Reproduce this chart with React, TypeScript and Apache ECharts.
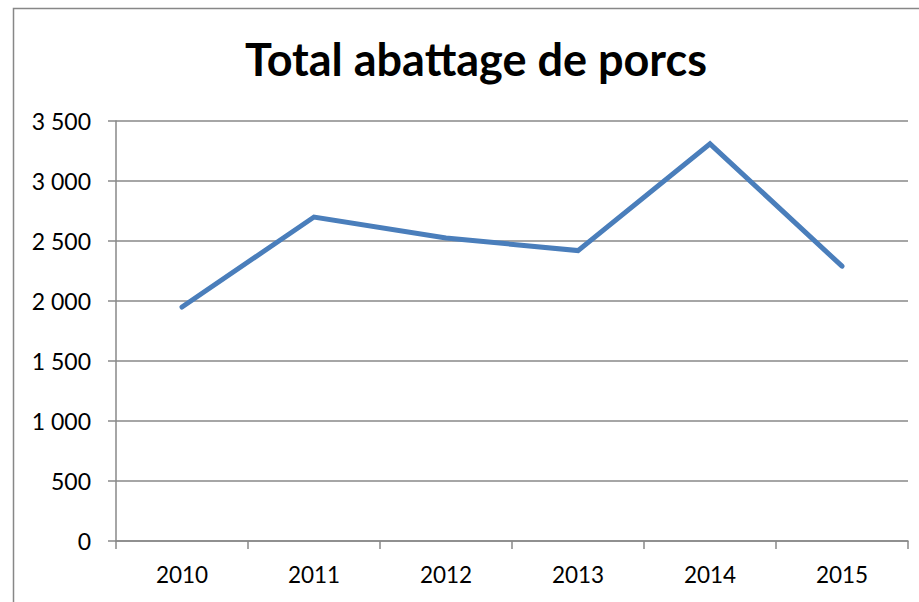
import React, { useEffect, useRef } from "react";
import * as echarts from "echarts";

const titleText = "Total abattage de porcs";
const years = ["2010", "2011", "2012", "2013", "2014", "2015"];
const slaughterValues = [1950, 2700, 2525, 2420, 3310, 2290];
const yMin = 0;
const yMax = 3500;
const yStep = 500;

const fmt = (v: number) => {
  const s = String(Math.round(v));
  return s.replace(/\B(?=(\d{3})+(?!\d))/g, " ");
};

export default function App() {
  const ref = useRef<HTMLDivElement>(null);
  useEffect(() => {
    if (!ref.current) return;
    const chart = echarts.init(ref.current, undefined, { renderer: "svg" });
    const gray = "#898989";
    const font = "Lato, 'Open Sans', sans-serif";
    chart.setOption({
      animation: false,
      backgroundColor: "#ffffff",
      grid: { left: 116, top: 121, right: 11, bottom: 61, containLabel: false },
      graphic: [
        {
          type: "rect",
          shape: { x: 13.5, y: 8.5, width: 1000, height: 700 },
          style: { fill: "none", stroke: "#878787", lineWidth: 1.5 },
          silent: true,
        },
        {
          type: "text",
          x: 476,
          y: 59,
          style: {
            text: titleText,
            font: `bold 45px ${font}`,
            fill: "#000",
            align: "center",
            verticalAlign: "middle",
          },
        },
      ],
      xAxis: {
        type: "category",
        data: years,
        boundaryGap: true,
        axisLine: { show: true, lineStyle: { color: gray, width: 1.5 } },
        axisTick: { show: true, length: 8, lineStyle: { color: gray, width: 1.5 } },
        axisLabel: { color: "#000", fontFamily: font, fontSize: 22.5, margin: 22 },
        splitLine: { show: false },
      },
      yAxis: {
        type: "value",
        min: yMin,
        max: yMax,
        interval: yStep,
        axisLine: { show: true, lineStyle: { color: gray, width: 1.5 } },
        axisTick: { show: true, length: 8, lineStyle: { color: gray, width: 1.5 } },
        axisLabel: {
          color: "#000",
          fontFamily: font,
          fontSize: 23,
          margin: 25,
          formatter: (v: number) => fmt(v),
        },
        splitLine: { show: true, lineStyle: { color: gray, width: 1.5 } },
      },
      series: [
        {
          type: "line",
          data: slaughterValues,
          symbol: "none",
          lineStyle: { color: "#4a7ebb", width: 5, cap: "round", join: "miter" },
        },
      ],
    });
    return () => chart.dispose();
  }, []);
  return (
    <div
      ref={ref}
      style={{ position: "fixed", left: 0, top: 0, width: 919, height: 602, background: "#fff" }}
    />
  );
}
